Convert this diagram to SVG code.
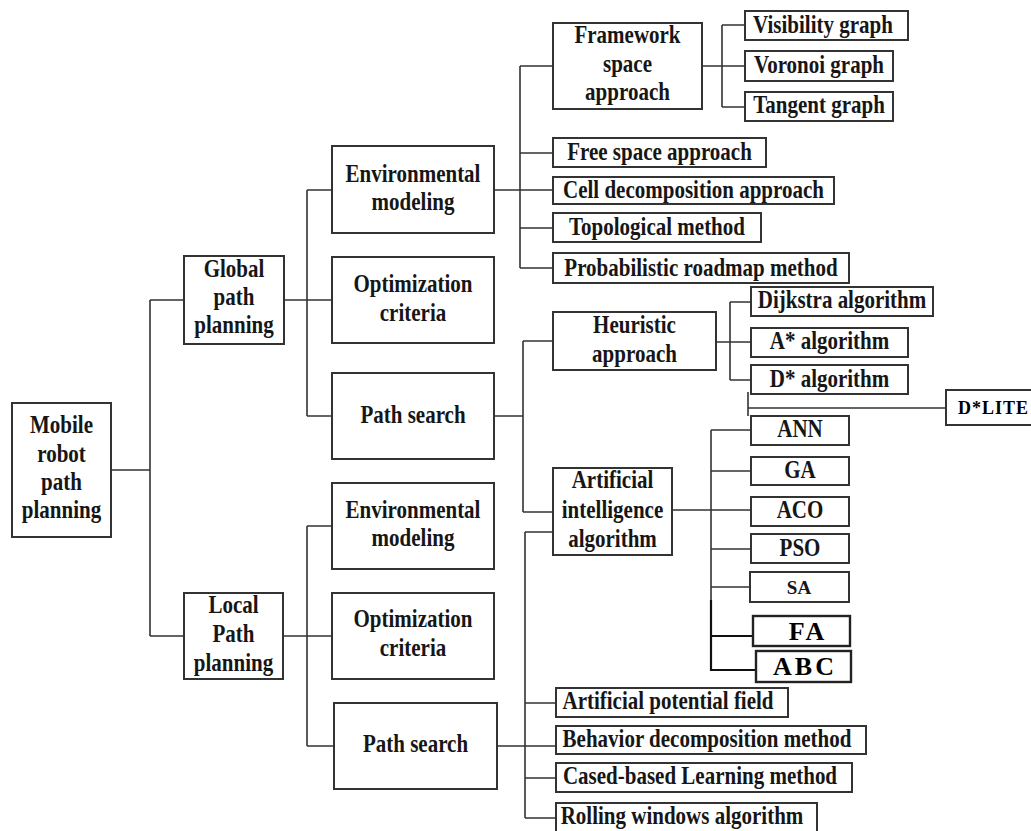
<svg xmlns="http://www.w3.org/2000/svg" width="1031" height="831" viewBox="0 0 1031 831">
<style>
.bx{fill:#fff;stroke:#333;stroke-width:2}
.bx2{fill:#fff;stroke:#222;stroke-width:2.4}
.ln{fill:none;stroke:#333;stroke-width:1.6}
.lnk{fill:none;stroke:#111;stroke-width:2.2}
.t{font-family:"Liberation Serif","Times New Roman",serif;font-weight:bold;font-size:21px;fill:#161616;text-anchor:middle}
.s{font-family:"Liberation Serif","Times New Roman",serif;font-weight:bold;font-size:19px;fill:#161616;text-anchor:middle}
.b{font-family:"Liberation Serif","Times New Roman",serif;font-weight:bold;font-size:26px;fill:#000;text-anchor:middle;letter-spacing:3px}
.d{font-family:"Liberation Serif","Times New Roman",serif;font-weight:bold;font-size:18px;fill:#000;letter-spacing:1px}
</style>
<rect width="1031" height="831" fill="#fff"/>
<g id="connectors">
<path class="ln" d="M111,470H150M150,300V636M150,300H184M150,636H184"/>
<path class="ln" d="M284,300H307M307,190V416M307,190H332M307,300H332M307,416H332"/>
<path class="ln" d="M283,636H332M307,526V746M307,526H332M307,746H334"/>
<path class="ln" d="M494,190H553M520,66V268M520,66H553M520,153H553M520,228H553M520,268H553"/>
<path class="ln" d="M702,66H745M722,25V107M722,25H745M722,107H745"/>
<path class="ln" d="M494,416H523M523,341V512M523,341H553M523,512H553"/>
<path class="ln" d="M716,342H751M730,302V380M730,302H751M730,380H751"/>
<path class="ln" d="M748,392V416M748,408H946"/>
<path class="ln" d="M672,510H751M711,430V636M711,430H751M711,471H751M711,549H751M711,587H750"/>
<path class="lnk" d="M711,600V671M711,636H753M711,670H756"/>
<path class="ln" d="M525,532V818M525,532H553M497,746H556M525,703H556M525,778H556M525,818H556"/>
</g>
<g id="root"><rect class="bx" x="12" y="403" width="99" height="134"/>
<text class="t" transform="translate(61.5,433) scale(1,1.2)"><tspan x="0" y="0">Mobile</tspan><tspan x="0" dy="23.8">robot</tspan><tspan x="0" dy="23.8">path</tspan><tspan x="0" dy="23">planning</tspan></text></g>
<g id="global"><rect class="bx" x="184" y="256" width="100" height="88"/>
<text class="t" transform="translate(234,277) scale(1,1.2)"><tspan x="0" y="0">Global</tspan><tspan x="0" dy="23.4">path</tspan><tspan x="0" dy="23.4">planning</tspan></text></g>
<g id="local"><rect class="bx" x="184" y="593" width="99" height="86"/>
<text class="t" transform="translate(233.5,613) scale(1,1.2)"><tspan x="0" y="0">Local</tspan><tspan x="0" dy="24.5">Path</tspan><tspan x="0" dy="23.5">planning</tspan></text></g>
<g id="g_env"><rect class="bx" x="332" y="146" width="162" height="87"/>
<text class="t" transform="translate(413,182) scale(1,1.2)"><tspan x="0" y="0">Environmental</tspan><tspan x="0" dy="23.5">modeling</tspan></text></g>
<g id="g_opt"><rect class="bx" x="332" y="257" width="162" height="86"/>
<text class="t" transform="translate(413,292) scale(1,1.2)"><tspan x="0" y="0">Optimization</tspan><tspan x="0" dy="24">criteria</tspan></text></g>
<g id="g_ps"><rect class="bx" x="332" y="373" width="162" height="86"/>
<text class="t" transform="translate(413,423) scale(1,1.2)">Path search</text></g>
<g id="l_env"><rect class="bx" x="332" y="483" width="162" height="86"/>
<text class="t" transform="translate(413,518) scale(1,1.2)"><tspan x="0" y="0">Environmental</tspan><tspan x="0" dy="23">modeling</tspan></text></g>
<g id="l_opt"><rect class="bx" x="332" y="593" width="162" height="86"/>
<text class="t" transform="translate(413,627) scale(1,1.2)"><tspan x="0" y="0">Optimization</tspan><tspan x="0" dy="24">criteria</tspan></text></g>
<g id="l_ps"><rect class="bx" x="334" y="703" width="163" height="86"/>
<text class="t" transform="translate(415.5,752) scale(1,1.2)">Path search</text></g>
<g id="framework"><rect class="bx" x="553" y="23" width="149" height="86"/>
<text class="t" transform="translate(627.5,43) scale(1,1.2)"><tspan x="0" y="0">Framework</tspan><tspan x="0" dy="24">space</tspan><tspan x="0" dy="23.5">approach</tspan></text></g>
<g id="free"><rect class="bx" x="553" y="138" width="213" height="29"/>
<text class="t" transform="translate(659.5,160) scale(1,1.2)">Free space approach</text></g>
<g id="cell"><rect class="bx" x="553" y="177" width="281" height="27"/>
<text class="t" transform="translate(693.5,198) scale(1,1.2)">Cell decomposition approach</text></g>
<g id="topo"><rect class="bx" x="553" y="213" width="208" height="29"/>
<text class="t" transform="translate(657,235) scale(1,1.2)">Topological method</text></g>
<g id="prob"><rect class="bx" x="553" y="253" width="296" height="30"/>
<text class="t" transform="translate(701,276) scale(1,1.2)">Probabilistic roadmap method</text></g>
<g id="vis"><rect class="bx" x="745" y="11" width="163" height="29"/>
<text class="t" transform="translate(823,33) scale(1,1.2)">Visibility graph</text></g>
<g id="vor"><rect class="bx" x="745" y="51" width="148" height="30"/>
<text class="t" transform="translate(819,73) scale(1,1.2)">Voronoi graph</text></g>
<g id="tan"><rect class="bx" x="745" y="92" width="148" height="29"/>
<text class="t" transform="translate(819,113) scale(1,1.2)">Tangent graph</text></g>
<g id="heur"><rect class="bx" x="553" y="312" width="163" height="58"/>
<text class="t" transform="translate(634.5,333) scale(1,1.2)"><tspan x="0" y="0">Heuristic</tspan><tspan x="0" dy="24">approach</tspan></text></g>
<g id="ai"><rect class="bx" x="553" y="468" width="119" height="87"/>
<text class="t" transform="translate(612.5,488) scale(1,1.2)"><tspan x="0" y="0">Artificial</tspan><tspan x="0" dy="24.6">intelligence</tspan><tspan x="0" dy="24.2">algorithm</tspan></text></g>
<g id="dij"><rect class="bx" x="751" y="287" width="182" height="29"/>
<text class="t" transform="translate(842,308) scale(1,1.2)">Dijkstra algorithm</text></g>
<g id="astar"><rect class="bx" x="751" y="328" width="157" height="29"/>
<text class="t" transform="translate(829.5,349) scale(1,1.2)">A* algorithm</text></g>
<g id="dstar"><rect class="bx" x="751" y="365" width="157" height="29"/>
<text class="t" transform="translate(829.5,387) scale(1,1.2)">D* algorithm</text></g>
<g id="dlite"><rect class="bx" x="946" y="390" width="100" height="35"/>
<text class="d" x="958" y="414">D*LITE</text></g>
<g id="ann"><rect class="bx" x="751" y="416" width="98" height="29"/>
<text class="t" transform="translate(800,437) scale(1,1.2)">ANN</text></g>
<g id="ga"><rect class="bx" x="751" y="457" width="98" height="28"/>
<text class="t" transform="translate(800,478) scale(1,1.2)">GA</text></g>
<g id="aco"><rect class="bx" x="751" y="497" width="98" height="29"/>
<text class="t" transform="translate(800,518) scale(1,1.2)">ACO</text></g>
<g id="pso"><rect class="bx" x="751" y="534" width="98" height="29"/>
<text class="t" transform="translate(800,556) scale(1,1.2)">PSO</text></g>
<g id="sa"><rect class="bx" x="750" y="572" width="99" height="30"/>
<text class="s" x="799" y="594">SA</text></g>
<g id="fa"><rect class="bx2" x="753" y="616" width="97" height="30"/>
<text class="b" x="808" y="640">FA</text></g>
<g id="abc"><rect class="bx2" x="756" y="651" width="95" height="31"/>
<text class="b" x="805" y="675">ABC</text></g>
<g id="apf"><rect class="bx" x="556" y="688" width="232" height="29"/>
<text class="t" transform="translate(668,709) scale(1,1.2)">Artificial potential field</text></g>
<g id="beh"><rect class="bx" x="556" y="726" width="310" height="28"/>
<text class="t" transform="translate(707,747) scale(1,1.2)">Behavior decomposition method</text></g>
<g id="case"><rect class="bx" x="556" y="763" width="296" height="29"/>
<text class="t" transform="translate(700,784) scale(1,1.2)">Cased-based Learning method</text></g>
<g id="roll"><rect class="bx" x="556" y="803" width="261" height="30"/>
<text class="t" transform="translate(682,824) scale(1,1.2)">Rolling windows algorithm</text></g>
</svg>
